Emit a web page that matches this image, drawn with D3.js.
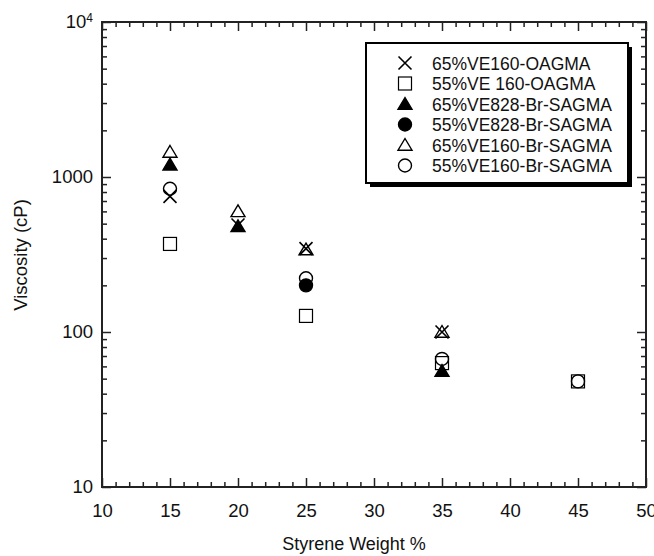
<!DOCTYPE html>
<html lang="en">
<head>
  <meta charset="UTF-8">
  <title>Viscosity vs Styrene Weight %</title>
  <script src="https://d3js.org/d3.v7.min.js"></script>
  <style>
    html, body { margin:0; background:#fff; }
    svg { display:block; }
    text { font-family:"Liberation Sans", Arial, sans-serif; fill:#111; }
    .axis path { display:none; }
    .axis line { stroke:#222; stroke-width:1.5px; }
    .axis text { font-size:18.5px; }
  </style>
</head>
<body>
  <svg id="chart" width="654" height="556"></svg>
  <script>
    // series: styrene weight % -> viscosity (cP)
    const seriesNames = ["65%VE160-OAGMA", "55%VE 160-OAGMA", "65%VE828-Br-SAGMA",
                         "55%VE828-Br-SAGMA", "65%VE160-Br-SAGMA", "55%VE160-Br-SAGMA"];
    const seriesMarkers = ["cross", "square", "triFilled", "circFilled", "triOpen", "circOpen"];

    const ve160oagma65   = [[15, 750], [20, 490], [25, 345], [35, 100]];
    const ve160oagma55   = [[15, 370], [25, 127], [35, 63], [45, 48]];
    const ve828brsag65   = [[15, 1200], [20, 480], [35, 56]];
    const ve828brsag55   = [[25, 200]];
    const ve160brsag65   = [[15, 1450], [20, 600], [25, 340], [35, 100]];
    const ve160brsag55   = [[15, 840], [25, 222], [35, 67], [45, 48]];
    const seriesData = [ve160oagma65, ve160oagma55, ve828brsag65, ve828brsag55, ve160brsag65, ve160brsag55];

    const xTicks = [10, 15, 20, 25, 30, 35, 40, 45, 50];
    const yTicks = [10, 100, 1000, 10000];

    const svg = d3.select("#chart");
    const m = {left:102, top:22, right:646, bottom:487};

    const x = d3.scaleLinear().domain([10, 50]).range([m.left, m.right]);
    const y = d3.scaleLog().domain([10, 10000]).range([m.bottom, m.top]);

    const xMinor = d3.range(10, 51, 1).filter(v => v % 5 !== 0);
    const yMinor = [];
    [10, 100, 1000].forEach(d => { for (let k = 2; k <= 9; k++) yMinor.push(d*k); });

    // ticks (all pointing inward), mirrored on the top/right
    function addAxis(axis, tr) {
      return svg.append("g").attr("class", "axis").attr("transform", tr).call(axis);
    }
    addAxis(d3.axisBottom(x).tickValues(xTicks).tickSize(-9).tickPadding(17).tickFormat(d3.format("d")), `translate(0,${m.bottom})`);
    addAxis(d3.axisBottom(x).tickValues(xMinor).tickSize(-5).tickFormat(""), `translate(0,${m.bottom})`);
    addAxis(d3.axisTop(x).tickValues(xTicks).tickSize(-9).tickFormat(""), `translate(0,${m.top})`);
    addAxis(d3.axisTop(x).tickValues(xMinor).tickSize(-5).tickFormat(""), `translate(0,${m.top})`);

    const yAx = addAxis(d3.axisLeft(y).tickValues(yTicks).tickSize(-9).tickPadding(9)
      .tickFormat(d => d === 10000 ? "" : d3.format("d")(d)), `translate(${m.left},0)`);
    yAx.selectAll(".tick").filter(d => d === 10000).select("text")
      .each(function() {
        const t = d3.select(this);
        t.append("tspan").text("10");
        t.append("tspan").attr("dy", "-0.55em").attr("font-size", "12px").text("4");
      });
    addAxis(d3.axisLeft(y).tickValues(yMinor).tickSize(-5).tickFormat(""), `translate(${m.left},0)`);
    addAxis(d3.axisRight(y).tickValues(yTicks).tickSize(-9).tickFormat(""), `translate(${m.right},0)`);
    addAxis(d3.axisRight(y).tickValues(yMinor).tickSize(-5).tickFormat(""), `translate(${m.right},0)`);

    // frame
    svg.append("rect")
      .attr("x", m.left).attr("y", m.top)
      .attr("width", m.right - m.left).attr("height", m.bottom - m.top)
      .attr("fill", "none").attr("stroke", "#222").attr("stroke-width", 2);

    // axis titles
    svg.append("text").attr("x", 354).attr("y", 550).attr("text-anchor", "middle")
      .attr("font-size", "18px").text("Styrene Weight %");
    svg.append("text").attr("transform", "translate(27,255) rotate(-90)").attr("text-anchor", "middle")
      .attr("font-size", "18.5px").text("Viscosity (cP)");

    // markers
    function drawMarker(g, type) {
      const s = 6.5;
      if (type === "cross") {
        g.append("path").attr("d", `M${-s},${-s}L${s},${s}M${-s},${s}L${s},${-s}`)
          .attr("stroke", "#000").attr("stroke-width", 1.6).attr("fill", "none");
      } else if (type === "square") {
        g.append("rect").attr("x", -s).attr("y", -s).attr("width", 2*s).attr("height", 2*s)
          .attr("fill", "none").attr("stroke", "#000").attr("stroke-width", 1.2);
      } else if (type === "triFilled" || type === "triOpen") {
        g.append("path").attr("d", `M0,${-s}L${s+0.5},${s*0.8}L${-s-0.5},${s*0.8}Z`)
          .attr("fill", type === "triFilled" ? "#000" : "none")
          .attr("stroke", "#000").attr("stroke-width", 1.4);
      } else {
        g.append("circle").attr("r", s)
          .attr("fill", type === "circFilled" ? "#000" : "none")
          .attr("stroke", "#000").attr("stroke-width", 1.4);
      }
    }

    seriesData.forEach((pts, i) => {
      svg.append("g").selectAll("g")
        .data(pts)
        .join("g")
          .attr("transform", d => `translate(${x(d[0])},${y(d[1])})`)
          .each(function() { drawMarker(d3.select(this), seriesMarkers[i]); });
    });

    // legend with drop shadow
    const lg = svg.append("g").attr("transform", "translate(366,43)");
    lg.append("rect").attr("x", 4).attr("y", 4).attr("width", 262).attr("height", 140).attr("fill", "#000");
    lg.append("rect").attr("width", 262).attr("height", 140)
      .attr("fill", "#fff").attr("stroke", "#000").attr("stroke-width", 2);
    seriesNames.forEach((name, i) => {
      const row = lg.append("g").attr("transform", `translate(0,${20 + i*20.5})`);
      drawMarker(row.append("g").attr("transform", "translate(39,0)"), seriesMarkers[i]);
      row.append("text").attr("x", 66).attr("y", 6.5).attr("font-size", "17.5px").text(name);
    });
  </script>
</body>
</html>
